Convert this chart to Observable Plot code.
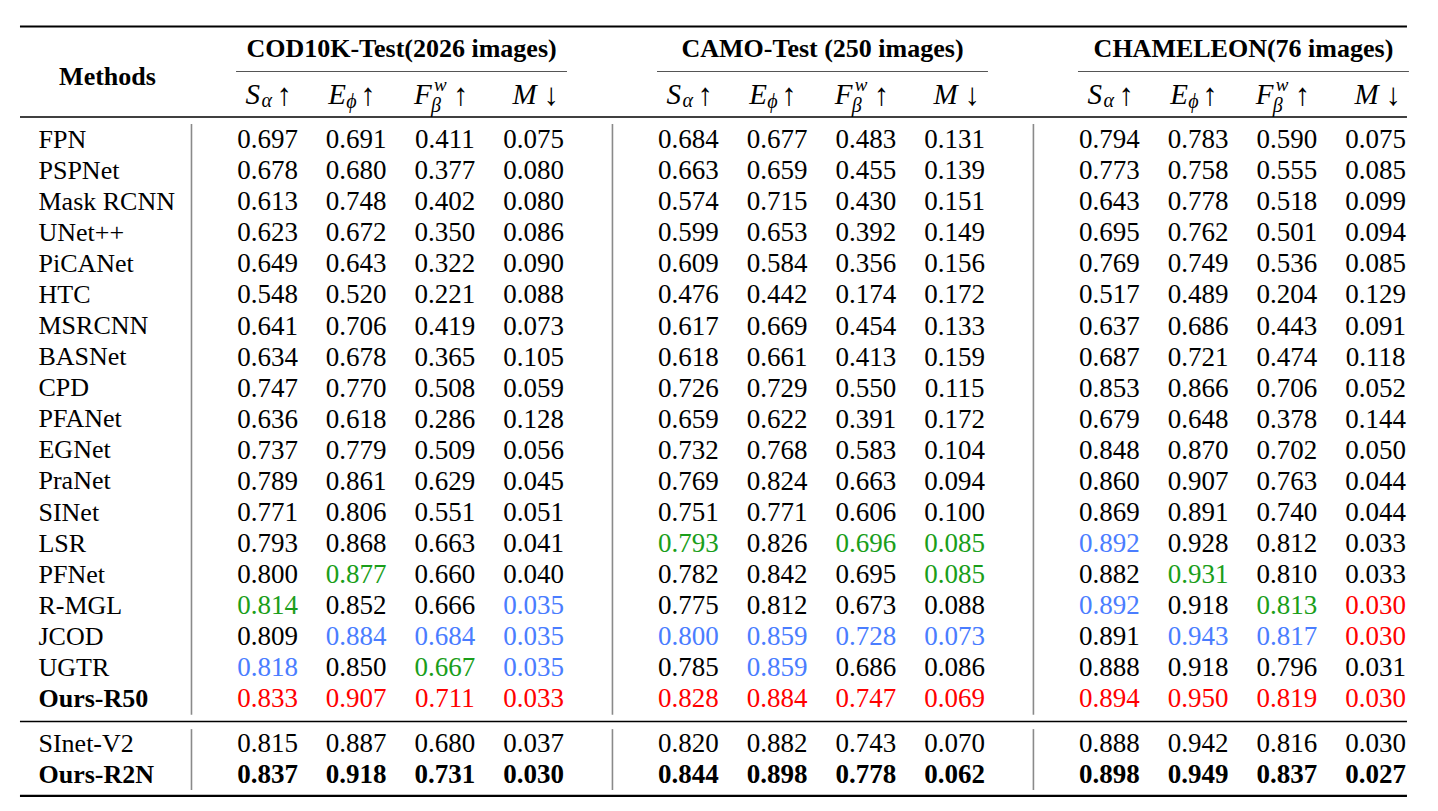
<!DOCTYPE html>
<html>
<head>
<meta charset="utf-8">
<script src="https://cdn.jsdelivr.net/npm/d3@7"></script>
<script src="https://cdn.jsdelivr.net/npm/@observablehq/plot@0.6"></script>
<style>
  html, body { margin: 0; padding: 0; background: #ffffff; }
  #chart svg { display: block; }
</style>
</head>
<body>
<div id="chart"></div>
<script>
// ---------------- DATA ----------------
const groups = ["COD10K-Test(2026 images)", "CAMO-Test (250 images)", "CHAMELEON(76 images)"];
const metricBase  = ["S", "E", "F", "M"];
const metricSub   = ["α", "ϕ", "β", ""];
const metricSup   = ["", "", "w", ""];
const metricArrow = ["↑", "↑", "↑", "↓"];

const methods = ["FPN", "PSPNet", "Mask RCNN", "UNet++", "PiCANet", "HTC", "MSRCNN", "BASNet", "CPD",
  "PFANet", "EGNet", "PraNet", "SINet", "LSR", "PFNet", "R-MGL", "JCOD", "UGTR", "Ours-R50"];

const values = [
  [0.697, 0.691, 0.411, 0.075, 0.684, 0.677, 0.483, 0.131, 0.794, 0.783, 0.590, 0.075],
  [0.678, 0.680, 0.377, 0.080, 0.663, 0.659, 0.455, 0.139, 0.773, 0.758, 0.555, 0.085],
  [0.613, 0.748, 0.402, 0.080, 0.574, 0.715, 0.430, 0.151, 0.643, 0.778, 0.518, 0.099],
  [0.623, 0.672, 0.350, 0.086, 0.599, 0.653, 0.392, 0.149, 0.695, 0.762, 0.501, 0.094],
  [0.649, 0.643, 0.322, 0.090, 0.609, 0.584, 0.356, 0.156, 0.769, 0.749, 0.536, 0.085],
  [0.548, 0.520, 0.221, 0.088, 0.476, 0.442, 0.174, 0.172, 0.517, 0.489, 0.204, 0.129],
  [0.641, 0.706, 0.419, 0.073, 0.617, 0.669, 0.454, 0.133, 0.637, 0.686, 0.443, 0.091],
  [0.634, 0.678, 0.365, 0.105, 0.618, 0.661, 0.413, 0.159, 0.687, 0.721, 0.474, 0.118],
  [0.747, 0.770, 0.508, 0.059, 0.726, 0.729, 0.550, 0.115, 0.853, 0.866, 0.706, 0.052],
  [0.636, 0.618, 0.286, 0.128, 0.659, 0.622, 0.391, 0.172, 0.679, 0.648, 0.378, 0.144],
  [0.737, 0.779, 0.509, 0.056, 0.732, 0.768, 0.583, 0.104, 0.848, 0.870, 0.702, 0.050],
  [0.789, 0.861, 0.629, 0.045, 0.769, 0.824, 0.663, 0.094, 0.860, 0.907, 0.763, 0.044],
  [0.771, 0.806, 0.551, 0.051, 0.751, 0.771, 0.606, 0.100, 0.869, 0.891, 0.740, 0.044],
  [0.793, 0.868, 0.663, 0.041, 0.793, 0.826, 0.696, 0.085, 0.892, 0.928, 0.812, 0.033],
  [0.800, 0.877, 0.660, 0.040, 0.782, 0.842, 0.695, 0.085, 0.882, 0.931, 0.810, 0.033],
  [0.814, 0.852, 0.666, 0.035, 0.775, 0.812, 0.673, 0.088, 0.892, 0.918, 0.813, 0.030],
  [0.809, 0.884, 0.684, 0.035, 0.800, 0.859, 0.728, 0.073, 0.891, 0.943, 0.817, 0.030],
  [0.818, 0.850, 0.667, 0.035, 0.785, 0.859, 0.686, 0.086, 0.888, 0.918, 0.796, 0.031],
  [0.833, 0.907, 0.711, 0.033, 0.828, 0.884, 0.747, 0.069, 0.894, 0.950, 0.819, 0.030]
];

// rank per cell: 1 = best (red), 2 = second (blue), 3 = third (green), 0 = none
const ranks = [
  "000000000000", "000000000000", "000000000000", "000000000000", "000000000000",
  "000000000000", "000000000000", "000000000000", "000000000000", "000000000000",
  "000000000000", "000000000000", "000000000000",
  "000030332000", // LSR
  "030000030300", // PFNet
  "300200002031", // R-MGL
  "022222220221", // JCOD
  "203202000000", // UGTR
  "111111111111"  // Ours-R50
];

const extraMethods = ["SInet-V2", "Ours-R2N"];
const extraValues = [
  [0.815, 0.887, 0.680, 0.037, 0.820, 0.882, 0.743, 0.070, 0.888, 0.942, 0.816, 0.030],
  [0.837, 0.918, 0.731, 0.030, 0.844, 0.898, 0.778, 0.062, 0.898, 0.949, 0.837, 0.027]
];

// ---------------- LAYOUT (column / row units) ----------------
const W = 1438, H = 811;
const COLW = 88.7, ROWH = 31.06;        // pixels per column unit / row unit
const ORIGIN_X = 267, ORIGIN_Y = 139;   // where column 0 / row 0 sit
const GROUP = 4.746;                    // column units between dataset groups
const BLOCK2 = 19.45;                   // row position of the second block
const L = {
  nameX: -2.582, methodsX: -1.804, titleX: 1.511, cmid: [-0.349, 3.382], sepX: -0.857,
  rule: [-2.785, 12.852],
  topY: -3.638, titleY: -2.914, methodsY: -2.028, cmidY: -2.189, headRuleY: -0.724,
  midY: 18.74, botY: 21.13, sep1: [-0.483, 18.54], sep2: [19.0, 20.96]
};
// header glyph placement (pixel offsets from column centre / row baseline)
const HEAD = {
  baseX:  [-22, -28, -31, -21],
  subX:   [-6, -10, -14, 0],
  supX:   [0, 0, -11, 0],
  arrowX: [9, 4, 8, 10],
  baseY: 103, subY: [106, 107, 111, 0], supY: 90, arrowY: 104
};
const px2x = p => p / COLW;
const py2y = p => (p - ORIGIN_Y) / ROWH;

const SERIF = "'Liberation Serif', 'Times New Roman', Times, serif";
const rankColor = {"1": "#ff0000", "2": "#4a7dff", "3": "#1a9e1a", "0": "#000000"};
const fmt = d3.format(".3f");
const colX = j => Math.floor(j / 4) * GROUP + (j % 4);

// ---------------- TABLE CELLS ----------------
const cells = [];
methods.forEach((name, i) => values[i].forEach((v, j) =>
  cells.push({x: colX(j), y: i, text: fmt(v), fill: rankColor[ranks[i][j]], bold: false})));
extraMethods.forEach((name, i) => extraValues[i].forEach((v, j) =>
  cells.push({x: colX(j), y: BLOCK2 + i, text: fmt(v), fill: "#000000", bold: name.startsWith("Ours")})));

const names = [
  ...methods.map((name, i) => ({y: i, text: name, bold: name.startsWith("Ours")})),
  ...extraMethods.map((name, i) => ({y: BLOCK2 + i, text: name, bold: name.startsWith("Ours")}))
];

const titles = groups.map((t, g) => ({x: g * GROUP + L.titleX, text: t, x1: g * GROUP + L.cmid[0], x2: g * GROUP + L.cmid[1]}));
const seps = groups.flatMap((t, g) => [
  {x: g * GROUP + L.sepX, y1: L.sep1[0], y2: L.sep1[1]},
  {x: g * GROUP + L.sepX, y1: L.sep2[0], y2: L.sep2[1]}
]);

const headCols = groups.flatMap((t, g) => metricBase.map((b, m) => ({g, m, c: g * GROUP + m})));
const headBase  = headCols.map(d => ({x: d.c + px2x(HEAD.baseX[d.m]), y: py2y(HEAD.baseY), text: metricBase[d.m]}));
const headSub   = headCols.filter(d => metricSub[d.m]).map(d => ({x: d.c + px2x(HEAD.subX[d.m]), y: py2y(HEAD.subY[d.m]), text: metricSub[d.m]}));
const headSup   = headCols.filter(d => metricSup[d.m]).map(d => ({x: d.c + px2x(HEAD.supX[d.m]), y: py2y(HEAD.supY), text: metricSup[d.m]}));
const headArrow = headCols.map(d => ({x: d.c + px2x(HEAD.arrowX[d.m]), y: py2y(HEAD.arrowY), text: metricArrow[d.m]}));

const hRules = [
  {y: L.topY, w: 2.2, c: "#000"},
  {y: L.headRuleY, w: 1.5, c: "#000"},
  {y: L.midY, w: 1.5, c: "#000"},
  {y: L.botY, w: 2.2, c: "#000"}
];

const textOpts = {fontFamily: SERIF};

const plot = Plot.plot({
  width: W,
  height: H,
  margin: 0,
  x: {domain: [-ORIGIN_X / COLW, (W - ORIGIN_X) / COLW], range: [0, W], axis: null},
  y: {domain: [-ORIGIN_Y / ROWH, (H - ORIGIN_Y) / ROWH], range: [0, H], axis: null},
  color: {type: "identity"},
  style: {fontFamily: SERIF, background: "#ffffff", overflow: "visible"},
  marks: [
    // horizontal rules
    ...hRules.map(r => Plot.ruleY([r], {y: "y", x1: L.rule[0], x2: L.rule[1], stroke: r.c, strokeWidth: r.w})),
    // group underlines
    Plot.ruleY(titles, {y: L.cmidY, x1: "x1", x2: "x2", stroke: "#555555", strokeWidth: 1.2}),
    // vertical separators
    Plot.ruleX(seps, {x: "x", y1: "y1", y2: "y2", stroke: "#8a8a8a", strokeWidth: 1.6}),
    // header
    Plot.text(titles, {x: "x", y: L.titleY, text: "text", fontWeight: "bold", fontSize: 26, ...textOpts}),
    Plot.text(["Methods"], {x: L.methodsX, y: L.methodsY, text: d => d, fontWeight: "bold", fontSize: 26, ...textOpts}),
    Plot.text(headBase, {x: "x", y: "y", text: "text", textAnchor: "start", lineAnchor: "bottom", fontStyle: "italic", fontSize: 29, ...textOpts}),
    Plot.text(headSub, {x: "x", y: "y", text: "text", textAnchor: "start", lineAnchor: "bottom", fontStyle: "italic", fontSize: 20, ...textOpts}),
    Plot.text(headSup, {x: "x", y: "y", text: "text", textAnchor: "start", lineAnchor: "bottom", fontStyle: "italic", fontSize: 19, ...textOpts}),
    Plot.text(headArrow, {x: "x", y: "y", text: "text", textAnchor: "start", lineAnchor: "bottom", fontSize: 31, fontWeight: 300, ...textOpts}),
    // method names
    Plot.text(names.filter(d => !d.bold), {x: L.nameX, y: "y", text: "text", textAnchor: "start", fontSize: 26, ...textOpts}),
    Plot.text(names.filter(d => d.bold), {x: L.nameX, y: "y", text: "text", textAnchor: "start", fontSize: 26, fontWeight: "bold", ...textOpts}),
    // values
    Plot.text(cells.filter(d => !d.bold), {x: "x", y: "y", text: "text", fill: "fill", fontSize: 27, ...textOpts}),
    Plot.text(cells.filter(d => d.bold), {x: "x", y: "y", text: "text", fill: "fill", fontSize: 27, fontWeight: "bold", ...textOpts})
  ]
});

document.getElementById("chart").append(plot);
</script>
</body>
</html>
